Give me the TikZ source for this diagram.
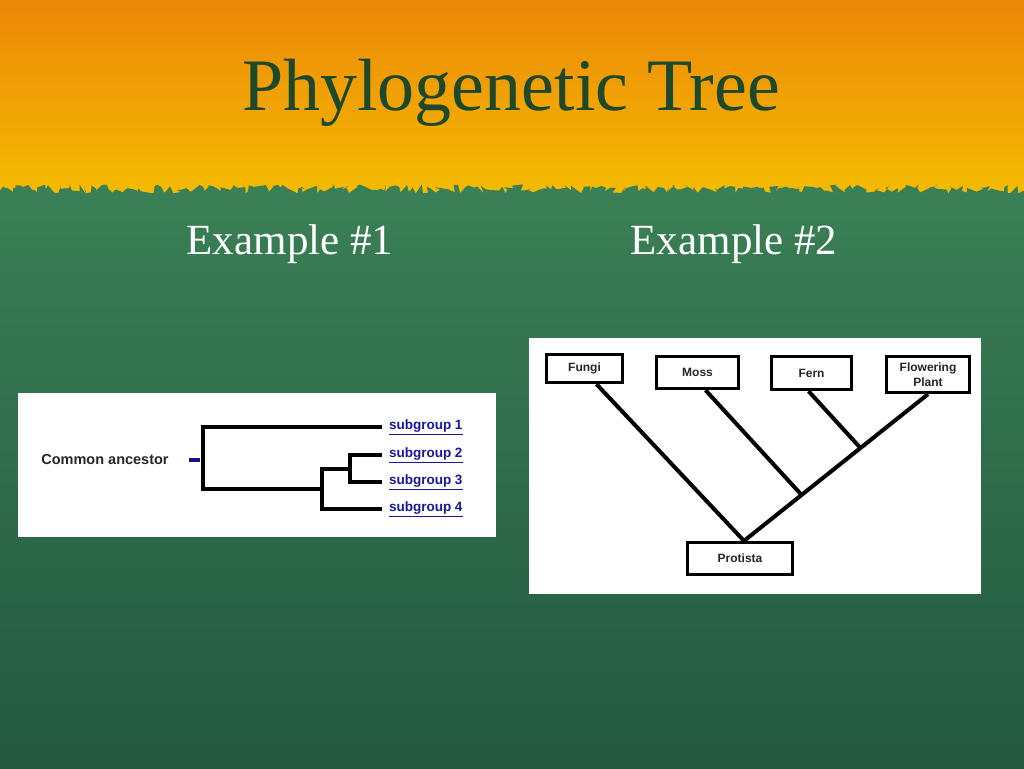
\documentclass[tikz,border=0pt]{standalone}
\usepackage{fontspec}
\setmainfont{Liberation Serif}
\newfontfamily\arialfont{Liberation Sans}
\usepackage{xcolor}
\usetikzlibrary{calc,decorations.pathmorphing}

\definecolor{toporange}{RGB}{236,136,8}
\definecolor{midyellow}{RGB}{245,188,0}
\definecolor{greentop}{RGB}{58,128,86}
\definecolor{greenbot}{RGB}{34,86,62}
\definecolor{titlegreen}{RGB}{30,72,42}
\definecolor{linkblue}{RGB}{24,24,150}
\definecolor{ancblue}{RGB}{20,20,130}

\tikzset{
  treebox/.style={draw,line width=3.3pt,fill=white,text=black!85,align=center,inner sep=0pt,font=\arialfont\bfseries\fontsize{12}{15}\selectfont},
  grp/.style={anchor=west,inner xsep=9pt,inner ysep=1pt,outer sep=0pt,text=linkblue,font=\arialfont\bfseries\fontsize{13.5}{15}\selectfont},
  branch/.style={line width=4pt,line cap=rect},
  slidetext/.style={text=white,font=\fontsize{43}{48}\selectfont,anchor=base},
}

\begin{document}
\begin{tikzpicture}[x=1pt,y=-1pt,line width=1pt]
\useasboundingbox (0,0) rectangle (1024,768);

% background
\shade[top color=toporange,bottom color=midyellow] (0,0) rectangle (1024,200);
\pgfmathsetseed{7}
\shade[top color=greentop,bottom color=greenbot,decorate,decoration={random steps,segment length=3pt,amplitude=4.5pt}] (-20,189) -- (1044,189) -- (1044,790) -- (-20,790) -- cycle;

\node[text=titlegreen,font=\fontsize{74}{80}\selectfont,anchor=base] (title) at (511,110) {Phylogenetic Tree};
\node[slidetext] (ex1) at (290,254) {Example \#1};
\node[slidetext] (ex2) at (734,254) {Example \#2};

\fill[white] (18,393) rectangle (496,537);
\fill[white] (529,338) rectangle (981,594);


% 1
\node[text=black!85,font=\arialfont\bfseries\fontsize{14.5}{16}\selectfont] (anc) at (105,460) {Common ancestor};
\node[fill=ancblue,minimum width=11pt,minimum height=4pt,inner sep=0pt] (dash) at (194.5,460) {};

\node[grp] (s1) at (380,427) {\underline{subgroup 1}};
\node[grp] (s2) at (380,455) {\underline{subgroup 2}};
\node[grp] (s3) at (380,482) {\underline{subgroup 3}};
\node[grp] (s4) at (380,509) {\underline{subgroup 4}};

\coordinate (r) at (203,460);
\coordinate (n1) at (322,489);
\coordinate (n2) at (350,469);

\draw[branch] (s1.west) -| (r) |- (n1);
\draw[branch] (n2) -| (n1) |- (s4.west);
\draw[branch] (s2.west) -| (n2) |- (s3.west);


% 2
\node[treebox,minimum width=76pt,minimum height=28pt] (fungi) at (584.5,368.5) {Fungi};
\node[treebox,minimum width=82pt,minimum height=32pt] (moss) at (697.5,372.5) {Moss};
\node[treebox,minimum width=80pt,minimum height=33pt] (fern) at (811.5,373) {Fern};
\node[treebox,minimum width=83pt,minimum height=36pt] (flw) at (928,374.5) {Flowering\\Plant};
\node[treebox,minimum width=105pt,minimum height=32pt] (prot) at (740,558.5) {Protista};

\coordinate (pt) at ($(prot.north)+(4,0)$);
\coordinate (j1) at ($(pt)!0.313!(flw.south)$);
\coordinate (j2) at ($(pt)!0.633!(flw.south)$);

\draw[line width=4pt] (pt) to ($(fungi.south)+(12,0)$);
\draw[line width=4pt] (pt) to (flw.south);
\draw[line width=4pt] (j1) to ($(moss.south)+(8,0)$);
\draw[line width=4pt] (j2) to ($(fern.south)+(-3,0)$);

\end{tikzpicture}
\end{document}
